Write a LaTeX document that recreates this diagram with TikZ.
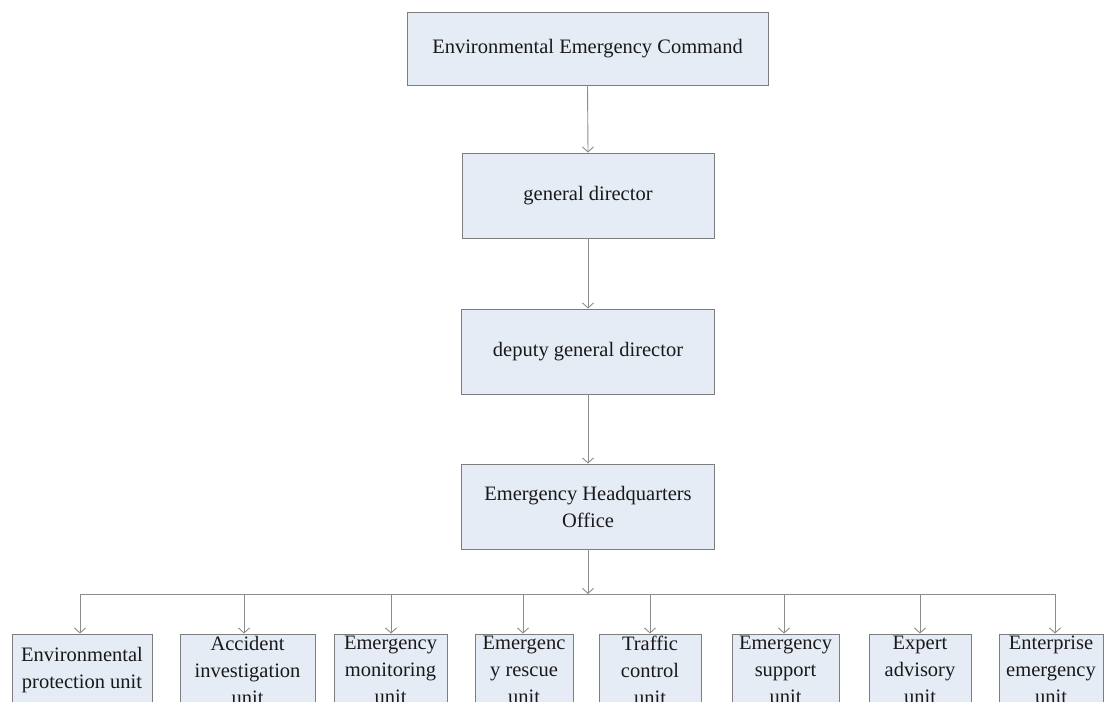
\documentclass[tikz,border=0pt]{standalone}
\usepackage{fontspec}
\setmainfont{Liberation Serif}
\usetikzlibrary{arrows.meta}
\definecolor{boxfill}{RGB}{230,236,246}
\definecolor{boxline}{RGB}{125,125,125}
\definecolor{conn}{RGB}{140,140,140}
\definecolor{txt}{RGB}{25,25,25}
\begin{document}
\begin{tikzpicture}[x=1pt,y=-1pt,
  box/.style={draw=boxline,fill=boxfill,line width=0.9pt,inner sep=0pt,
    align=center,text=txt,font=\fontsize{20.5}{27}\selectfont},
  arr/.style={draw=conn,line width=0.9pt,-{Straight Barb[length=5pt,width=11pt]}},
  bus/.style={draw=conn,line width=0.9pt}]
\useasboundingbox (0,0) rectangle (1105,701);
\clip (0,0) rectangle (1105,701);
\fill[white] (0,0) rectangle (1105,701);
% upper chain
\node[box,minimum width=361pt,minimum height=73pt] (cmd) at (587.5,48.5) {Environmental Emergency Command};
\node[box,minimum width=252pt,minimum height=85pt] (gd) at (588,195.5) {general director};
\node[box,minimum width=253pt,minimum height=85pt] (dgd) at (588,351.5) {deputy general director};
\node[box,minimum width=253pt,minimum height=85pt] (hq) at (588,506.5) {Emergency Headquarters\\Office};
% units
\node[box,minimum width=140pt,minimum height=72pt] (u1) at (82,670) {Environmental\\protection unit};
\node[box,minimum width=135pt,minimum height=72pt] (u2) at (247.5,670) {Accident\\investigation\\unit};
\node[box,minimum width=113pt,minimum height=72pt] (u3) at (390.5,670) {Emergency\\monitoring\\unit};
\node[box,minimum width=98pt,minimum height=72pt] (u4) at (524,670) {Emergenc\\y rescue\\unit};
\node[box,minimum width=102pt,minimum height=72pt] (u5) at (650,670) {Traffic\\control\\unit};
\node[box,minimum width=107pt,minimum height=72pt] (u6) at (785.5,670) {Emergency\\support\\unit};
\node[box,minimum width=102pt,minimum height=72pt] (u7) at (920,670) {Expert\\advisory\\unit};
\node[box,minimum width=104pt,minimum height=72pt] (u8) at (1051,670) {Enterprise\\emergency\\unit};
% bus coordinates
\coordinate (b1) at (80,594);
\coordinate (b2) at (244,594);
\coordinate (b3) at (391,594);
\coordinate (b4) at (523,594);
\coordinate (b5) at (650,594);
\coordinate (b6) at (784,594);
\coordinate (b7) at (920,594);
\coordinate (b8) at (1055,594);
% connectors
\draw[arr] (cmd.south) -- (gd.north);
\draw[arr] (gd.south) -- (dgd.north);
\draw[arr] (dgd.south) -- (hq.north);
\draw[bus] (b1) -- (b8);
\draw[arr] (hq.south) -- (hq.south |- b1);
\foreach \i in {1,...,8}{
  \draw[arr] (b\i) -- (b\i |- u\i.north);
}
\end{tikzpicture}
\end{document}
